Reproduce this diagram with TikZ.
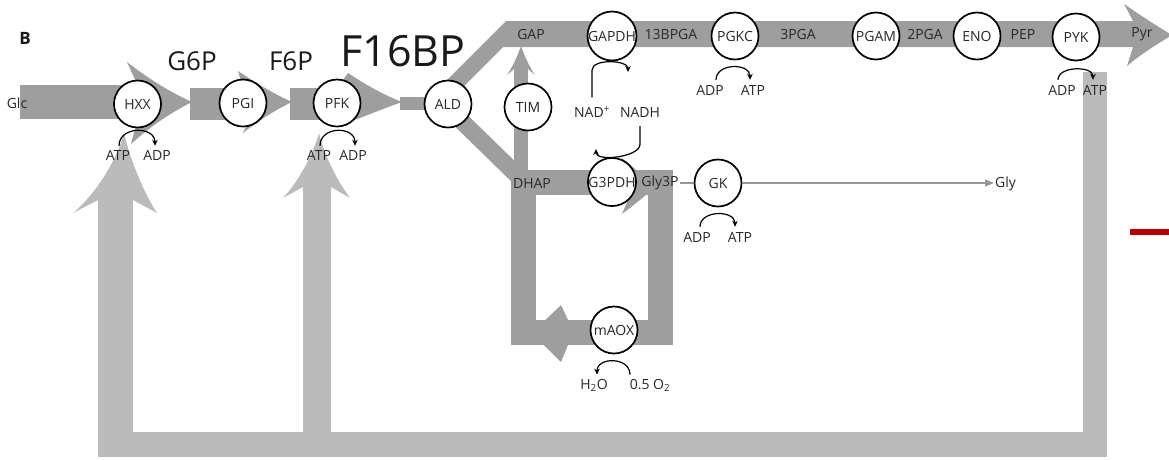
\documentclass[tikz,border=0pt]{standalone}
\usepackage{fontspec}
\setmainfont{Open Sans}
\usetikzlibrary{arrows.meta}
\definecolor{flux}{RGB}{158,158,158}
\definecolor{retc}{RGB}{187,187,187}
\definecolor{thinc}{RGB}{150,150,150}
\definecolor{redl}{RGB}{192,0,0}
\definecolor{txt}{RGB}{40,40,40}
\begin{document}
\begin{tikzpicture}[x=1pt,y=-1pt,
  enz/.style={circle,draw=black,line width=1.7pt,fill=white,minimum size=47pt,inner sep=0pt,font=\fontsize{14}{15}\selectfont,text=txt},
  lab/.style={inner sep=1pt,font=\fontsize{14}{15}\selectfont,text=txt},
  big/.style={inner sep=0pt,text=black!90},
  cof/.style={line width=1.2pt,-{Stealth[length=6pt,width=5.5pt]}},
  thinline/.style={thinc,line width=1.3pt},
  fluxband/.style={fill=flux},
  retband/.style={fill=retc}]
\useasboundingbox (0,0) rectangle (1169,459);

% ---------- return (ATP) loop ----------
\fill[retband] (98,432) rectangle (1107,457);
\fill[retband] (98,195) rectangle (133,457);
\fill[retband] (303,182) rectangle (331,457);
\fill[retband] (1083,72) rectangle (1107,457);
\fill[retband] (124,133) .. controls (117,160) and (95,195) .. (73,213) -- (98,200) -- (133,200) -- (157,213) .. controls (145,195) and (130,160) .. (124,133) -- cycle;
\fill[retband] (319,133) .. controls (313,155) and (298,182) .. (283,198) -- (303,187) -- (331,187) -- (350,198) .. controls (338,182) and (324,155) .. (319,133) -- cycle;

% ---------- main flux ----------
\fill[fluxband] (20,85) rectangle (138,119);
\fill[fluxband] (138,86) -- (127,62) .. controls (150,80) and (172,93) .. (192,102) .. controls (172,112) and (152,125) .. (131,144) -- (138,118) -- cycle;
\fill[fluxband] (190,88) rectangle (243,120);
\fill[fluxband] (243,88) -- (238,71) .. controls (256,83) and (274,94) .. (292,102) .. controls (275,110) and (258,121) .. (243,133) -- (250,118) -- cycle;
\fill[fluxband] (290,88) rectangle (337,120);
\fill[fluxband] (337,88) -- (348,73) .. controls (366,85) and (384,95) .. (402,102) .. controls (385,108) and (368,115) .. (352,121) -- (337,120) -- cycle;
\fill[fluxband] (400,97) rectangle (447,110);
\fill[fluxband] (432,95) -- (506,21) -- (1135,21) -- (1135,47) -- (503,47) -- (455,95) -- cycle;
\fill[fluxband] (1133,21) -- (1124,4) .. controls (1140,15) and (1155,25) .. (1172,35) .. controls (1156,45) and (1141,54) .. (1127,66) -- (1133,47) -- cycle;
\draw[flux,line width=17pt] (443,103) -- (523,181);
\fill[fluxband] (514,68) rectangle (528,183);
\fill[fluxband] (521,46) .. controls (525,57) and (529,66) .. (535,75) -- (528,69) -- (514,69) -- (507,75) .. controls (513,66) and (517,57) .. (521,46) -- cycle;
\draw[flux,line width=25pt,line join=miter] (523,182.5) rectangle (660,332.5);
\fill[fluxband] (655,187) .. controls (645,177) and (634,168) .. (622,158) -- (630,170) -- (630,195) -- (622,214) .. controls (634,205) and (645,196) .. (655,187) -- cycle;
\fill[fluxband] (530,333) .. controls (540,325) and (550,316) .. (561,305) -- (568,320) -- (568,345) -- (561,362) .. controls (550,351) and (540,341) .. (530,333) -- cycle;

% red mark
\draw[redl,line width=6pt] (1130,232) -- (1169,232);

% ---------- enzymes ----------
\node[enz] (HXX) at (137.5,104) {HXX};
\node[enz] (PGI) at (243,103) {PGI};
\node[enz] (PFK) at (337,103) {PFK};
\node[enz] (ALD) at (448,104) {ALD};
\node[enz] (TIM) at (528,107) {TIM};
\node[enz] (GAPDH) at (612,36) {GAPDH};
\node[enz] (PGKC) at (735,36) {PGKC};
\node[enz] (PGAM) at (876,36) {PGAM};
\node[enz] (ENO) at (977,36) {ENO};
\node[enz] (PYK) at (1076,37) {PYK};
\node[enz] (G3PDH) at (612,182) {G3PDH};
\node[enz] (GK) at (718,183) {GK};
\node[enz] (mAOX) at (614,330) {mAOX};

% ---------- metabolites ----------
\node[big,font=\bfseries\fontsize{17}{17}\selectfont] (Blab) at (25,38) {B};
\node[lab] (Glc) at (17,103) {Glc};
\node[big,font=\fontsize{26}{26}\selectfont] (G6P) at (192,61) {G6P};
\node[big,font=\fontsize{26}{26}\selectfont] (F6P) at (291,61) {F6P};
\node[big,font=\fontsize{43}{43}\selectfont] (F16BP) at (403,51) {F16BP};
\node[lab] (GAP) at (531,34) {GAP};
\node[lab] (BPGA) at (671,34) {13BPGA};
\node[lab] (PGA3) at (798,34) {3PGA};
\node[lab] (PGA2) at (925,34) {2PGA};
\node[lab] (PEP) at (1023,34) {PEP};
\node[lab] (Pyr) at (1142,34) {Pyr};
\node[lab] (DHAP) at (532,183) {DHAP};
\node[lab] (Gly3P) at (660,183) {Gly3P};
\node[lab,anchor=west] (Gly) at (994,184) {Gly};

% ---------- cofactors ----------
\node[lab] (atpA) at (118,155) {ATP};
\node[lab] (adpA) at (157,155) {ADP};
\node[lab] (atpB) at (319,155) {ATP};
\node[lab] (adpB) at (353,155) {ADP};
\node[lab] (adpC) at (710,90) {ADP};
\node[lab] (atpC) at (753,90) {ATP};
\node[lab] (adpD) at (1062,90) {ADP};
\node[lab] (atpD) at (1095,90) {ATP};
\node[lab] (adpE) at (697,237) {ADP};
\node[lab] (atpE) at (740,237) {ATP};
\node[lab] (nad) at (592,112) {NAD\textsuperscript{+}};
\node[lab] (nadh) at (640,112) {NADH};
\node[lab] (h2o) at (594,385) {H\textsubscript{2}O};
\node[lab] (o2) at (650,385) {0.5 O\textsubscript{2}};
\coordinate (gapdhOut) at (628,72);
\coordinate (g3pdhOut) at (596,149);

% thin line to glycerol
\draw[thinline] (Gly3P.east) -- (GK.west);
\draw[thinline,-{Triangle[length=9pt,width=7pt]}] (GK.east) -- (GK.east -| Gly.west);

% cofactor arcs
\draw[cof] ([xshift=1pt,yshift=3pt]atpA.north) .. controls +(0,-20) and +(0,-20) .. ([xshift=-2pt,yshift=3pt]adpA.north);
\draw[cof] ([xshift=1pt,yshift=3pt]atpB.north) .. controls +(0,-20) and +(0,-20) .. ([xshift=2pt,yshift=3pt]adpB.north);
\draw[cof] ([xshift=6pt,yshift=4pt]adpC.north) .. controls +(0,-17) and +(0,-17) .. ([xshift=-3pt,yshift=4pt]atpC.north);
\draw[cof] ([xshift=-4pt,yshift=4pt]adpD.north) .. controls +(0,-14) and +(0,-14) .. ([xshift=-2pt,yshift=4pt]atpD.north);
\draw[cof] ([xshift=3pt,yshift=4pt]adpE.north) .. controls +(0,-17) and +(0,-17) .. ([xshift=-5pt,yshift=4pt]atpE.north);
\draw[cof] ([xshift=-20pt,yshift=3pt]o2.north) .. controls +(0,-18) and +(0,-18) .. ([xshift=3pt,yshift=3pt]h2o.north);
\draw[cof] ([yshift=8pt]nad.north) -- ++(0,-27) .. controls +(0,-12) and +(0,-12) .. (gapdhOut);
\draw[cof] ([yshift=-8pt]nadh.south) -- ++(0,18) .. controls +(0,13) and +(0,13) .. (g3pdhOut);
\end{tikzpicture}
\end{document}
